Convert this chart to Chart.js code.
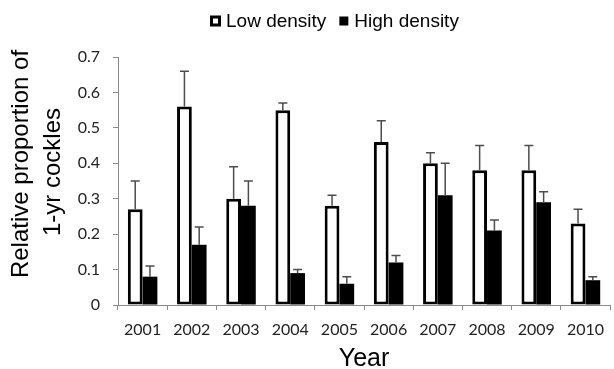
<!DOCTYPE html>
<html>
<head>
<meta charset="utf-8">
<script src="https://cdn.jsdelivr.net/npm/chart.js@4.4.0/dist/chart.umd.min.js"></script>
<style>
    html, body { margin: 0; padding: 0; background: #fff; }
</style>
</head>
<body>
<canvas id="chart" width="614" height="369"></canvas>
<script>
const years = ['2001', '2002', '2003', '2004', '2005', '2006', '2007', '2008', '2009', '2010'];
const lowDensity = [0.27, 0.56, 0.30, 0.55, 0.28, 0.46, 0.40, 0.38, 0.38, 0.23];
const lowDensityErr = [0.08, 0.10, 0.09, 0.02, 0.03, 0.06, 0.03, 0.07, 0.07, 0.04];
const highDensity = [0.08, 0.17, 0.28, 0.09, 0.06, 0.12, 0.31, 0.21, 0.29, 0.07];
const highDensityErr = [0.03, 0.05, 0.07, 0.01, 0.02, 0.02, 0.09, 0.03, 0.03, 0.01];
const yTickLabels = ['0', '0.1', '0.2', '0.3', '0.4', '0.5', '0.6', '0.7'];
const yTitle = ['Relative proportion of', '1-yr cockles'];
const xTitle = 'Year';

const axisGray = '#8a8a8a';
const titleFont = '"Liberation Sans", Arial, sans-serif';

// error bars: stem from bar top up to value + error, with a cap on top
const errorBars = {
    id: 'errorBars',
    afterDatasetsDraw(chart) {
        const ctx = chart.ctx;
        const y = chart.scales.y;
        ctx.save();
        ctx.strokeStyle = '#4d4d4d';
        ctx.lineWidth = 1.5;
        chart.data.datasets.forEach((ds, i) => {
            const meta = chart.getDatasetMeta(i);
            meta.data.forEach((bar, j) => {
                const top = y.getPixelForValue(ds.data[j] + ds.errors[j]);
                ctx.beginPath();
                ctx.moveTo(bar.x, bar.y);
                ctx.lineTo(bar.x, top);
                ctx.moveTo(bar.x - 4.5, top);
                ctx.lineTo(bar.x + 4.5, top);
                ctx.stroke();
            });
        });
        ctx.restore();
    }
};

// legend and axis titles drawn by hand to match the original placement
const labelsPlugin = {
    id: 'labelsPlugin',
    afterDraw(chart) {
        const ctx = chart.ctx;
        const area = chart.chartArea;
        ctx.save();
        ctx.fillStyle = '#000';

        // legend
        ctx.font = '19px ' + titleFont;
        ctx.textBaseline = 'middle';
        ctx.textAlign = 'left';
        let x = 210;
        const ly = 21;
        chart.data.datasets.forEach(ds => {
            if (ds.borderWidth) {
                ctx.fillStyle = '#000';
                ctx.fillRect(x, ly - 5.5, 11, 11);
                ctx.fillStyle = '#fff';
                ctx.fillRect(x + 3, ly - 2.5, 5, 5);
            } else {
                ctx.fillStyle = '#000';
                ctx.fillRect(x + 1, ly - 4.5, 9, 9);
            }
            ctx.fillStyle = '#000';
            ctx.fillText(ds.label, x + 16, ly + 1);
            x += 16 + ctx.measureText(ds.label).width + 12;
        });

        // x title
        ctx.font = '25px ' + titleFont;
        ctx.textAlign = 'center';
        ctx.textBaseline = 'alphabetic';
        ctx.fillText(xTitle, (area.left + area.right) / 2, 366);

        // y title
        ctx.font = '24px ' + titleFont;
        const centers = [[28, 164], [60, 172]];
        yTitle.forEach((line, k) => {
            ctx.save();
            ctx.translate(centers[k][0], centers[k][1]);
            ctx.rotate(-Math.PI / 2);
            ctx.fillText(line, 0, 0);
            ctx.restore();
        });
        ctx.restore();
    }
};

new Chart(document.getElementById('chart').getContext('2d'), {
    type: 'bar',
    data: {
        labels: years,
        datasets: [
            {
                label: 'Low density',
                data: lowDensity,
                errors: lowDensityErr,
                backgroundColor: '#fff',
                borderColor: '#000',
                borderWidth: 3,
                borderSkipped: false,
                barPercentage: 1,
                categoryPercentage: 0.6
            },
            {
                label: 'High density',
                data: highDensity,
                errors: highDensityErr,
                backgroundColor: '#000',
                borderWidth: 0,
                barPercentage: 1,
                categoryPercentage: 0.6
            }
        ]
    },
    options: {
        responsive: false,
        animation: false,
        devicePixelRatio: 1,
        layout: { padding: { top: 57, left: 0, right: 0, bottom: 0 } },
        plugins: {
            legend: { display: false },
            tooltip: { enabled: false }
        },
        scales: {
            x: {
                grid: { drawOnChartArea: false, tickLength: 5, color: axisGray, offset: true },
                border: { color: axisGray },
                ticks: {
                    font: { family: 'Lato', size: 16 },
                    color: '#222',
                    padding: 10,
                    maxRotation: 0,
                    autoSkip: false
                },
                afterFit: scale => { scale.height = 64; }
            },
            y: {
                min: 0,
                max: 0.7,
                grid: { drawOnChartArea: false, tickLength: 5, color: axisGray },
                border: { color: axisGray },
                ticks: {
                    stepSize: 0.1,
                    font: { family: 'Lato', size: 16 },
                    color: '#222',
                    padding: 13,
                    callback: (value, index) => yTickLabels[index]
                },
                afterFit: scale => { scale.width = 118; }
            }
        }
    },
    plugins: [errorBars, labelsPlugin]
});
</script>
</body>
</html>
